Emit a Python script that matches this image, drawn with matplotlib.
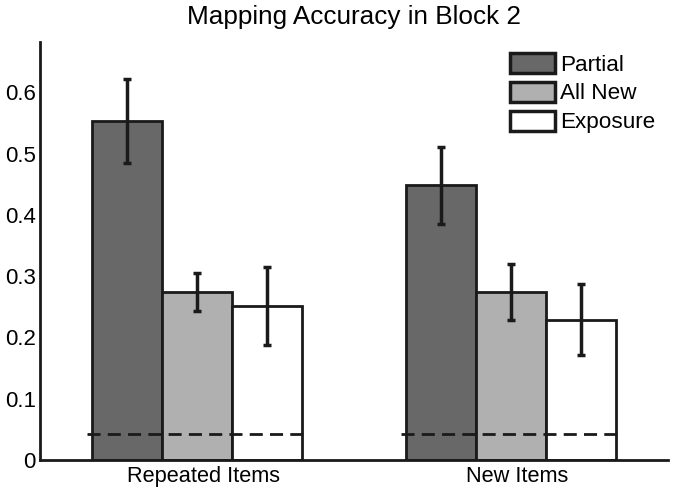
import matplotlib
matplotlib.use("Agg")
import matplotlib.pyplot as plt
import matplotlib.transforms as mtransforms
import numpy as np

plt.rcParams['font.family'] = ['Liberation Sans', 'DejaVu Sans']

groups = ["Repeated Items", "New Items"]
conditions = ["Partial", "All New", "Exposure"]
values = {
    "Partial": [0.553, 0.448],
    "All New": [0.274, 0.274],
    "Exposure": [0.251, 0.229],
}
errors = {
    "Partial": [0.068, 0.063],
    "All New": [0.031, 0.046],
    "Exposure": [0.064, 0.058],
}
colors = {"Partial": "#686868", "All New": "#b0b0b0", "Exposure": "#ffffff"}
chance = 0.042
yticks = [0, 0.1, 0.2, 0.3, 0.4, 0.5, 0.6]
ytick_labels = ["0", "0.1", "0.2", "0.3", "0.4", "0.5", "0.6"]

fig = plt.figure(figsize=(6.75, 4.93), dpi=100)
ax = fig.add_axes([0.0593, 0.0669, 0.9303, 0.848])

x = np.arange(1, len(groups) + 1)
w = 0.223
for i, c in enumerate(conditions):
    pos = x + (i - 1) * w
    ax.bar(pos, values[c], width=w, color=colors[c], edgecolor="#1a1a1a",
           linewidth=2, label=c, zorder=2)
    ax.errorbar(pos, values[c], yerr=errors[c], fmt="none", ecolor="#1a1a1a",
                elinewidth=2.5, capsize=3, capthick=2.5, zorder=3)

for xi in x:
    ax.plot([xi - 0.35, xi + 0.35], [chance, chance], color="#1a1a1a",
            linewidth=2, dashes=(4.7, 2.6), zorder=4)

ax.set_xlim(0.5, 2.5)
ax.set_ylim(0, 0.682)
ax.set_xticks(x)
ax.set_xticklabels(groups, fontsize=15.7)
ax.set_yticks(yticks)
ax.set_yticklabels(ytick_labels, fontsize=16)
ax.tick_params(axis="y", length=0, pad=3)
ax.tick_params(axis="x", length=0, pad=4)
offset = mtransforms.ScaledTranslation(0.06, 0, fig.dpi_scale_trans)
for lbl in ax.get_xticklabels():
    lbl.set_transform(lbl.get_transform() + offset)
for s in ["top", "right"]:
    ax.spines[s].set_visible(False)
for s in ["left", "bottom"]:
    ax.spines[s].set_linewidth(2)
    ax.spines[s].set_color("#1a1a1a")

ax.set_title("Mapping Accuracy in Block 2", fontsize=18.8, pad=13)

leg = ax.legend(loc="upper left", bbox_to_anchor=(0.748, 0.974), frameon=False,
                fontsize=16.2, handlelength=2.0, handleheight=1.0,
                labelspacing=0.27, handletextpad=0.25, borderaxespad=0,
                borderpad=0)
for p in leg.get_patches():
    p.set_linewidth(2.5)

fig.savefig("out.png", dpi=100)
